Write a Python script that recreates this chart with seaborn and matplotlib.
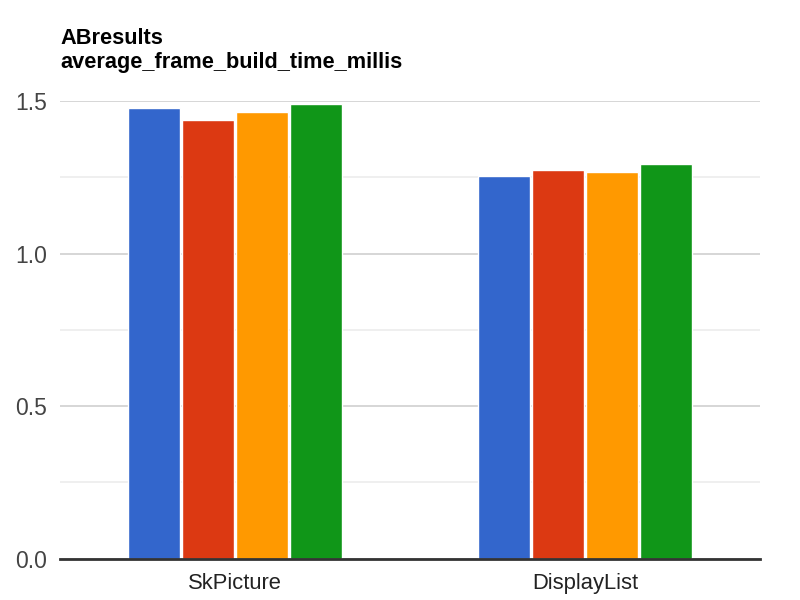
import numpy as np
import pandas as pd
import matplotlib
matplotlib.use("Agg")
import matplotlib.pyplot as plt
from matplotlib.ticker import MultipleLocator
import seaborn as sns

categories = ["SkPicture", "DisplayList"]
series = ["run 1", "run 2", "run 3", "run 4"]
values = {
    "run 1": [1.477, 1.254],
    "run 2": [1.438, 1.274],
    "run 3": [1.464, 1.268],
    "run 4": [1.490, 1.294],
}
colors = ["#3366cc", "#dc3912", "#ff9900", "#109618"]

rows = []
for s in series:
    for c, v in zip(categories, values[s]):
        rows.append({"category": c, "series": s, "value": v})
df = pd.DataFrame(rows)

sns.set_style("white")
plt.rcParams["font.family"] = ["Liberation Sans", "DejaVu Sans"]

fig = plt.figure(figsize=(8, 6), dpi=100)
ax = fig.add_axes([0.075, 0.0688, 0.875, 0.763])

sns.barplot(data=df, x="category", y="value", hue="series", order=categories,
            hue_order=series, palette=colors, width=0.62, gap=0.04,
            saturation=1, legend=False, ax=ax, zorder=3)

ax.set_ylim(0, 1.5)
ax.yaxis.set_major_locator(MultipleLocator(0.5))
ax.yaxis.set_minor_locator(MultipleLocator(0.25))
ax.grid(axis="y", which="major", color="#cccccc", linewidth=1.1, zorder=0)
ax.grid(axis="y", which="minor", color="#ebebeb", linewidth=1.1, zorder=0)
ax.set_axisbelow(True)
ax.yaxis.set_major_formatter(matplotlib.ticker.FormatStrFormatter("%.1f"))

for side in ["left", "right", "top"]:
    ax.spines[side].set_visible(False)
ax.spines["bottom"].set_color("#333333")
ax.spines["bottom"].set_linewidth(2)
ax.spines["bottom"].set_zorder(4)

ax.tick_params(axis="both", which="both", length=0)
ax.tick_params(axis="y", labelsize=16.5, labelcolor="#444444", pad=9)
ax.tick_params(axis="x", labelsize=15.8, labelcolor="#222222", pad=10)
ax.set_xlabel("")
ax.set_ylabel("")

fig.text(0.075, 1 - 44 / 600, "ABresults", fontsize=15.7, fontweight="bold",
         va="baseline", ha="left", color="#000000")
fig.text(0.075, 1 - 68 / 600, "average_frame_build_time_millis", fontsize=15.7,
         fontweight="bold", va="baseline", ha="left", color="#000000")

fig.savefig("out.png", dpi=100)
